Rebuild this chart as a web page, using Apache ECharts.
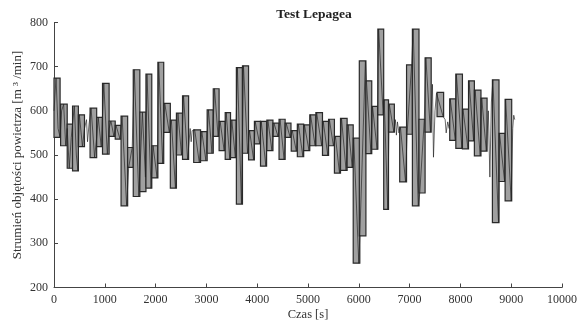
<!DOCTYPE html>
<html>
<head>
<meta charset="utf-8">
<script src="https://cdn.jsdelivr.net/npm/echarts@6/dist/echarts.min.js"></script>
<style>html,body{margin:0;padding:0;background:#fff}#c{width:584px;height:327px}</style>
</head>
<body>
<div id="c"></div>
<script>
// Box intervals (time in s) and flow range (m3/min)
const boxStart = [0,130,260,365,480,710,840,955,1085,1205,1320,1450,1560,1690,1810,1925,2045,2160,2290,2410,2530,2750,2885,3015,3135,3250,3370,3475,3590,3710,3830,3945,4065,4190,4310,4430,4550,4670,4790,4915,5035,5155,5285,5405,5520,5640,5770,5890,6010,6140,6255,6375,6490,6585,6805,6940,7055,7185,7305,7540,7790,7910,8040,8160,8275,8405,8630,8760,8880];
const boxEnd   = [120,260,380,480,600,840,955,1085,1205,1320,1450,1560,1690,1810,1925,2045,2160,2290,2410,2530,2650,2885,3015,3135,3250,3370,3475,3590,3710,3830,3945,4065,4185,4310,4430,4550,4665,4790,4915,5035,5155,5285,5405,5520,5640,5770,5890,6020,6140,6255,6375,6490,6585,6700,6940,7055,7185,7305,7425,7670,7910,8040,8160,8275,8405,8525,8760,8880,9010];
const boxLow   = [540,521,470,464,519,494,519,502,542,536,385,472,406,417,425,448,481,551,425,500,490,483,487,504,542,510,490,494,389,504,489,525,475,510,542,490,540,509,496,510,521,521,499,521,459,465,472,255,317,503,513,591,377,552,439,547,385,414,552,587,533,515,514,532,498,509,347,440,396];
const boxHigh  = [674,615,570,611,591,606,585,662,577,567,588,517,693,597,683,521,710,617,579,595,634,557,553,602,650,576,596,579,698,702,555,576,576,579,572,581,572,555,570,568,591,596,576,581,542,583,568,538,713,668,610,785,625,615,563,704,785,581,720,642,627,683,604,668,647,629,670,549,626];

// Measured flow trace (time, value)
const traceTime  = [0,40,80,120,150,190,230,260,300,340,365,400,440,470,500,560,600,640,660,690,730,800,840,870,930,980,1050,1085,1120,1180,1220,1300,1340,1430,1470,1540,1580,1670,1740,1800,1830,1910,1950,2030,2060,2140,2180,2270,2310,2390,2440,2510,2550,2630,2680,2700,2720,2770,2860,2910,2990,3040,3110,3160,3230,3270,3350,3390,3460,3500,3570,3610,3690,3730,3810,3850,3930,3960,4050,4080,4170,4210,4290,4330,4410,4450,4530,4570,4650,4690,4770,4810,4900,4930,5020,5050,5140,5170,5270,5300,5390,5420,5500,5540,5620,5660,5750,5790,5870,5900,6000,6020,6130,6150,6240,6270,6360,6390,6480,6500,6570,6600,6690,6720,6740,6760,6790,6820,6920,6950,7040,7070,7170,7200,7290,7320,7410,7450,7470,7500,7530,7550,7660,7700,7720,7750,7780,7800,7900,7920,8030,8050,8150,8170,8260,8290,8390,8420,8510,8550,8580,8610,8640,8750,8770,8870,8890,9000,9030,9050,9070];
const traceValue = [600,674,560,540,600,615,521,560,470,540,570,611,500,464,591,519,560,580,530,570,606,494,540,585,519,662,502,560,577,542,567,536,588,385,472,517,693,406,597,450,683,425,521,448,710,481,617,551,579,425,595,500,634,490,560,530,555,557,483,553,487,602,504,650,542,576,510,596,490,579,494,698,389,702,504,555,489,576,525,576,475,579,510,572,542,581,490,572,540,555,509,570,496,568,510,591,521,596,521,576,499,581,521,542,459,583,465,568,472,538,255,317,713,668,503,610,513,785,591,625,377,615,552,580,545,575,550,563,439,547,704,785,385,414,581,720,552,660,495,600,640,642,587,580,550,575,560,627,533,683,515,604,514,668,532,647,498,629,509,600,450,620,670,347,549,440,626,396,560,590,580];

const xTicks = [0,1000,2000,3000,4000,5000,6000,7000,8000,9000,10000];
const yTicks = [200,300,400,500,600,700,800];

const boxData = boxStart.map((s, i) => [s, boxEnd[i], boxLow[i], boxHigh[i]]);
const traceData = traceTime.map((t, i) => [t, traceValue[i]]);

const FONT = '"Liberation Serif", "DejaVu Serif", serif';
const axisCol = '#444';

const chart = echarts.init(document.getElementById('c'));
chart.setOption({
  animation: false,
  backgroundColor: '#fff',
  title: {
    text: 'Test Lepagea',
    left: 309, top: 3, textAlign: 'center',
    textStyle: { fontFamily: FONT, fontWeight: 'bold', fontSize: 13.5, color: '#222' }
  },
  grid: { left: 54, top: 22.5, width: 508, height: 265, outerBoundsMode: 'none', containLabel: false },
  xAxis: {
    type: 'value', min: xTicks[0], max: xTicks[xTicks.length - 1], interval: 1000,
    name: 'Czas [s]', nameLocation: 'middle', nameGap: 21, nameMoveOverlap: false,
    nameTextStyle: { fontFamily: FONT, fontSize: 12.5, color: '#333' },
    axisLine: { show: true, onZero: false, lineStyle: { color: axisCol, width: 1 } },
    axisTick: { show: true, inside: true, length: 4, lineStyle: { color: axisCol } },
    axisLabel: { fontFamily: FONT, fontSize: 12, color: '#333', margin: 6, formatter: v => String(v) },
    splitLine: { show: false }
  },
  yAxis: {
    type: 'value', min: yTicks[0], max: yTicks[yTicks.length - 1], interval: 100,
    name: 'Strumień objętości powietrza [m ³ /min]', nameLocation: 'middle', nameGap: 30, nameMoveOverlap: false,
    nameTextStyle: { fontFamily: FONT, fontSize: 13, color: '#333' },
    axisLine: { show: true, onZero: false, lineStyle: { color: axisCol, width: 1 } },
    axisTick: { show: true, inside: true, length: 4, lineStyle: { color: axisCol } },
    axisLabel: { fontFamily: FONT, fontSize: 12, color: '#333', margin: 6, formatter: v => String(v) },
    splitLine: { show: false }
  },
  series: [
    {
      type: 'custom',
      data: boxData,
      encode: { x: [0, 1], y: [2, 3] },
      z: 2,
      renderItem: function (params, api) {
        const p0 = api.coord([api.value(0), api.value(3)]);
        const p1 = api.coord([api.value(1), api.value(2)]);
        return {
          type: 'rect',
          shape: { x: p0[0], y: p0[1], width: p1[0] - p0[0], height: p1[1] - p0[1] },
          style: { fill: '#a0a0a0', stroke: '#2a2a2a', lineWidth: 1.2 }
        };
      }
    },
    {
      type: 'line',
      data: traceData,
      showSymbol: false,
      z: 3,
      lineStyle: { color: '#222', width: 0.8, opacity: 0.85 }
    }
  ]
});
</script>
</body>
</html>
